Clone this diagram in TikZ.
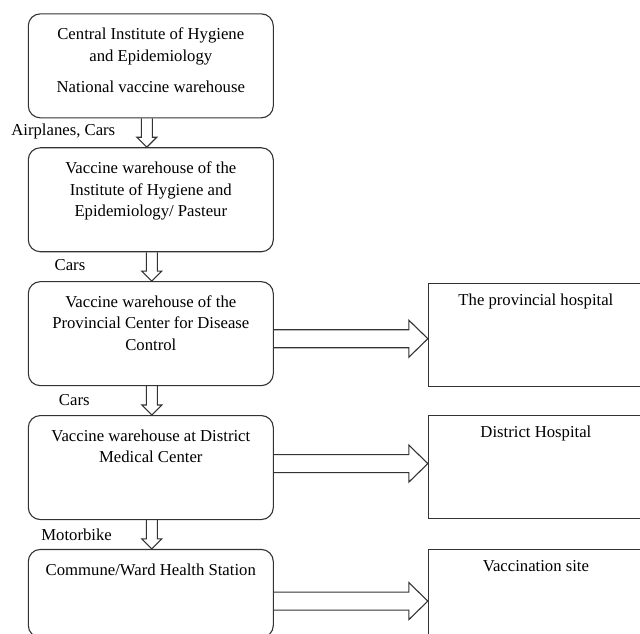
\documentclass[tikz,border=0pt]{standalone}
\usepackage{fontspec}
\setmainfont{Liberation Serif}
\usepackage{tikz}
\usetikzlibrary{
    positioning,
    calc
}
\newcommand{\boxfont}{\fontsize{16.7}{21.5}\selectfont}
\tikzset{
    store/.style={
        rectangle,
        rounded corners=12pt,
        draw=black!80,
        line width=1.1pt,
        minimum width=245pt,
        minimum height=#1,
        inner sep=0pt,
        execute at begin node={\begin{minipage}[c][#1][t]{240pt}\centering\boxfont\vspace*{14pt}},
        execute at end node={\end{minipage}}
    },
    store/.default=104pt
}
\tikzstyle{site} = [
    rectangle,
    draw=black!80,
    line width=1.1pt,
    minimum width=215pt,
    minimum height=103pt,
    inner sep=0pt,
    execute at begin node={\begin{minipage}[c][103pt][t]{210pt}\centering\boxfont\vspace*{10.5pt}},
    execute at end node={\end{minipage}}
]
\tikzstyle{mode} = [
    font=\boxfont,
    inner sep=0pt,
    anchor=base west
]
\tikzstyle{hollow} = [
    draw=black!80,
    line width=1.1pt,
    line join=miter
]
% hollow block arrow going down, #1 = sideways shift
\newcommand{\flowdown}[3][0]{%
    \draw[hollow] let \p1=($(#2)+(#1,0)$), \p2=($(#3)+(#1,0)$) in
        (\x1-5.5,\y1) -- (\x1-5.5,\y2+10) -- (\x1-10,\y2+10) -- (\x1,\y2)
        -- (\x1+10,\y2+10) -- (\x1+5.5,\y2+10) -- (\x1+5.5,\y1);}
% hollow block arrow going right, #3 = drop of the shaft below the top
\newcommand{\flowright}[3]{%
    \draw[hollow] let \p1=(#1.north east), \p2=(#2.west) in
        (\x1,\y1-#3+9) -- (\x2-19,\y1-#3+9) -- (\x2-19,\y1-#3+18.5) -- (\x2,\y1-#3)
        -- (\x2-19,\y1-#3-18.5) -- (\x2-19,\y1-#3-9) -- (\x1,\y1-#3-9);}

\begin{document}
\begin{tikzpicture}[x=1pt, y=1pt, node distance=28.8pt]
        \useasboundingbox (0,0) rectangle (640,-634);
        \clip (0,0) rectangle (640,-634);

        % Storage chain
        \node[store, anchor=north] (cihe) at (150.8,-13.3)
            {Central Institute of Hygiene\\and Epidemiology\\[10pt]National vaccine warehouse};
        \node[store, below=of cihe] (ihe)
            {Vaccine warehouse of the\\Institute of Hygiene and\\Epidemiology/ Pasteur};
        \node[store, below=of ihe] (cdc)
            {Vaccine warehouse of the\\Provincial Center for Disease\\Control};
        \node[store, below=of cdc] (dmc)
            {Vaccine warehouse at District\\Medical Center};
        \node[store=88pt, below=of dmc] (cws)
            {Commune/Ward Health Station};

        % Receivers
        \node[site, right=154pt of cdc.north east, anchor=north west, yshift=-1.4pt] (provhosp)
            {The provincial hospital};
        \node[site, right=154pt of dmc.north east, anchor=north west] (disthosp)
            {District Hospital};
        \node[site, right=154pt of cws.north east, anchor=north west] (vacsite)
            {Vaccination site};

        % Transport
        \node[mode] (air) at ([shift={(-16.6,-17)}]cihe.south west) {Airplanes, Cars};
        \node[mode] (car1) at ([shift={(26.7,-18)}]ihe.south west) {Cars};
        \node[mode] (car2) at ([shift={(31,-19.7)}]cdc.south west) {Cars};
        \node[mode] (bike) at ([shift={(13.4,-20.7)}]dmc.south west) {Motorbike};

        % Arrows
        \flowdown[-4]{cihe.south}{ihe.north}
        \flowdown[1]{ihe.south}{cdc.north}
        \flowdown[1]{cdc.south}{dmc.north}
        \flowdown[1]{dmc.south}{cws.north}

        \flowright{cdc}{provhosp}{57.6}
        \flowright{dmc}{disthosp}{48.6}
        \flowright{cws}{vacsite}{52.2}
    \end{tikzpicture}
\end{document}
